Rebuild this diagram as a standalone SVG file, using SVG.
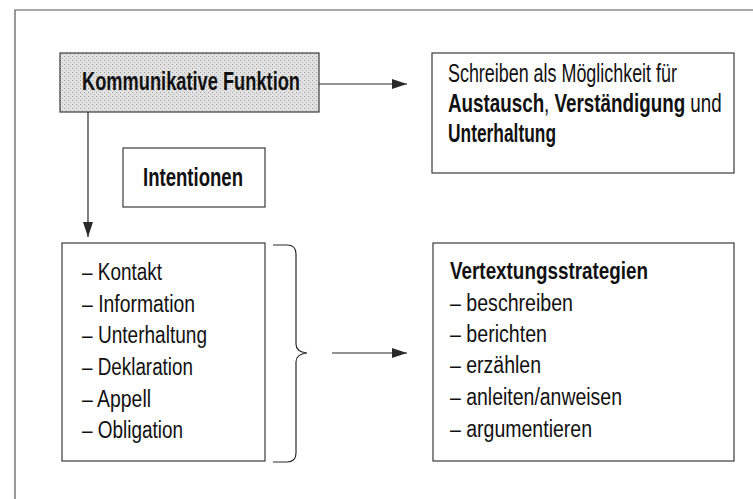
<svg xmlns="http://www.w3.org/2000/svg" width="753" height="499" viewBox="0 0 753 499">
<style>
  .box { fill: #ffffff; stroke: #3a3a3a; stroke-width: 1.2; }
  .line { fill: none; stroke: #2a2a2a; stroke-width: 1.2; }
  .frame { fill: none; stroke: #555555; stroke-width: 1.2; }
  text { font-family: "Liberation Sans Narrow", "Liberation Sans", Arial, sans-serif; fill: #111111; }
  .big { font-size: 25px; }
  .list { font-size: 23px; }
  .b { font-weight: bold; }
</style>
<defs>
  <pattern id="dots" width="4" height="4" patternUnits="userSpaceOnUse">
    <rect width="4" height="4" fill="#e2e2e2"/>
    <rect x="0" y="0" width="1" height="1" fill="#9a9a9a"/>
    <rect x="2" y="2" width="1" height="1" fill="#b0b0b0"/>
  </pattern>
  <marker id="ah" markerWidth="16" markerHeight="12" refX="15" refY="6" orient="auto" markerUnits="userSpaceOnUse">
    <path d="M0,1 L15,6 L0,11 Z" fill="#2a2a2a"/>
  </marker>
</defs>
<path class="frame" d="M15,499 V10 H753"/>
<g id="kommunikative-funktion">
  <rect x="60" y="53" width="259" height="59" fill="url(#dots)" stroke="#3a3a3a" stroke-width="1.2"/>
  <text class="big b" x="82" y="90" textLength="218" lengthAdjust="spacingAndGlyphs">Kommunikative Funktion</text>
</g>
<g id="schreiben">
  <rect class="box" x="432" y="53" width="302" height="120"/>
  <text class="big" transform="translate(448,82) scale(0.72,1)" x="0" y="0" textLength="318" lengthAdjust="spacingAndGlyphs">Schreiben als Möglichkeit für</text>
  <text class="big" transform="translate(448,112) scale(0.75,1)" x="0" y="0" textLength="365" lengthAdjust="spacingAndGlyphs"><tspan class="b">Austausch</tspan>, <tspan class="b">Verständigung</tspan> und</text>
  <text class="big b" x="448" y="142" textLength="108" lengthAdjust="spacingAndGlyphs">Unterhaltung</text>
</g>
<g id="intentionen">
  <rect class="box" x="123" y="148" width="142" height="59"/>
  <text class="big b" x="143" y="186" textLength="100" lengthAdjust="spacingAndGlyphs">Intentionen</text>
</g>
<g id="intentionen-liste">
  <rect class="box" x="62" y="243" width="203" height="218"/>
  <text class="list" x="82" y="280" textLength="80" lengthAdjust="spacingAndGlyphs">– Kontakt</text>
  <text class="list" x="82" y="312" textLength="113" lengthAdjust="spacingAndGlyphs">– Information</text>
  <text class="list" x="82" y="343" textLength="125" lengthAdjust="spacingAndGlyphs">– Unterhaltung</text>
  <text class="list" x="82" y="375" textLength="111" lengthAdjust="spacingAndGlyphs">– Deklaration</text>
  <text class="list" x="82" y="407" textLength="69" lengthAdjust="spacingAndGlyphs">– Appell</text>
  <text class="list" x="82" y="438" textLength="101" lengthAdjust="spacingAndGlyphs">– Obligation</text>
</g>
<g id="vertextungsstrategien">
  <rect class="box" x="433" y="243" width="301" height="218"/>
  <text class="list b" x="450" y="279" textLength="198" lengthAdjust="spacingAndGlyphs">Vertextungsstrategien</text>
  <text class="list" x="450" y="311" textLength="123" lengthAdjust="spacingAndGlyphs">– beschreiben</text>
  <text class="list" x="450" y="342" textLength="97" lengthAdjust="spacingAndGlyphs">– berichten</text>
  <text class="list" x="450" y="373" textLength="91" lengthAdjust="spacingAndGlyphs">– erzählen</text>
  <text class="list" x="450" y="405" textLength="172" lengthAdjust="spacingAndGlyphs">– anleiten/anweisen</text>
  <text class="list" x="450" y="437" textLength="142" lengthAdjust="spacingAndGlyphs">– argumentieren</text>
</g>
<g id="connectors">
  <line class="line" x1="319" y1="84" x2="407" y2="84" marker-end="url(#ah)"/>
  <line class="line" x1="88" y1="112" x2="88" y2="237" marker-end="url(#ah)"/>
  <path class="line" d="M273,245 H287 Q296,245 296,254 V344 Q296,352 307,353 Q296,354 296,362 V453 Q296,462 287,462 H273"/>
  <line class="line" x1="332" y1="353" x2="407" y2="353" marker-end="url(#ah)"/>
</g>
</svg>
